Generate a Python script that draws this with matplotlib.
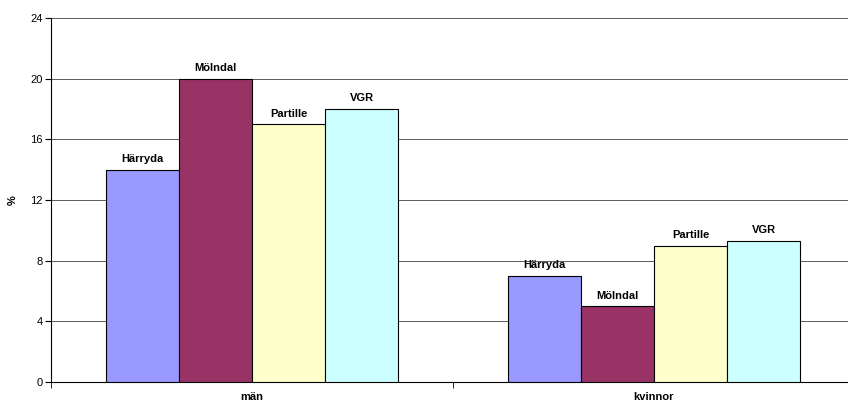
import matplotlib.pyplot as plt
import numpy as np

plt.rcParams['font.family'] = ['Liberation Sans', 'DejaVu Sans']

###Données

groupes = ['män', 'kvinnor']
series = ['Härryda', 'Mölndal', 'Partille', 'VGR']
valeurs = {
    'Härryda': [14, 7],
    'Mölndal': [20, 5],
    'Partille': [17, 9],
    'VGR': [18, 9.3],
}
couleurs = ['#9999FF', '#993366', '#FFFFCC', '#CCFFFF']

###Tracé

fig = plt.figure(figsize=(8.48, 4.03), dpi=100)
ax = fig.add_axes([51/848, 1-382/403, 804/848, 364/403])

x = np.arange(len(groupes))
w = 0.182
for i, s in enumerate(series):
    pos = x + (i - 1.5) * w
    bars = ax.bar(pos, valeurs[s], width=w, color=couleurs[i], edgecolor='black',
                  linewidth=0.8, zorder=3)
    for b, v in zip(bars, valeurs[s]):
        ax.annotate(s, (b.get_x() + w/2, v), xytext=(0, 4), textcoords='offset points',
                    ha='center', va='bottom', fontsize=8, fontweight='bold')

ax.set_xlim(-0.5, len(groupes) - 0.5)
ax.set_ylim(0, 24)
ax.set_yticks(np.arange(0, 25, 4))
ax.yaxis.grid(True, color='#404040', linewidth=0.6, zorder=0)
ax.set_axisbelow(True)

ax.set_xticks(x)
ax.set_xticklabels(groupes, fontsize=8, fontweight='bold')
ax.tick_params(axis='x', length=0, pad=7)
ax.set_xticks(np.arange(-0.5, len(groupes)), minor=True)
ax.tick_params(axis='x', which='minor', length=4, direction='out')
ax.tick_params(axis='y', labelsize=8, length=4, direction='out', pad=2)

ax.set_ylabel('%', fontsize=8, fontweight='bold', labelpad=9)

for k in ['top', 'right']:
    ax.spines[k].set_visible(False)
for k in ['left', 'bottom']:
    ax.spines[k].set_linewidth(0.8)

plt.savefig('out.png', dpi=100)
